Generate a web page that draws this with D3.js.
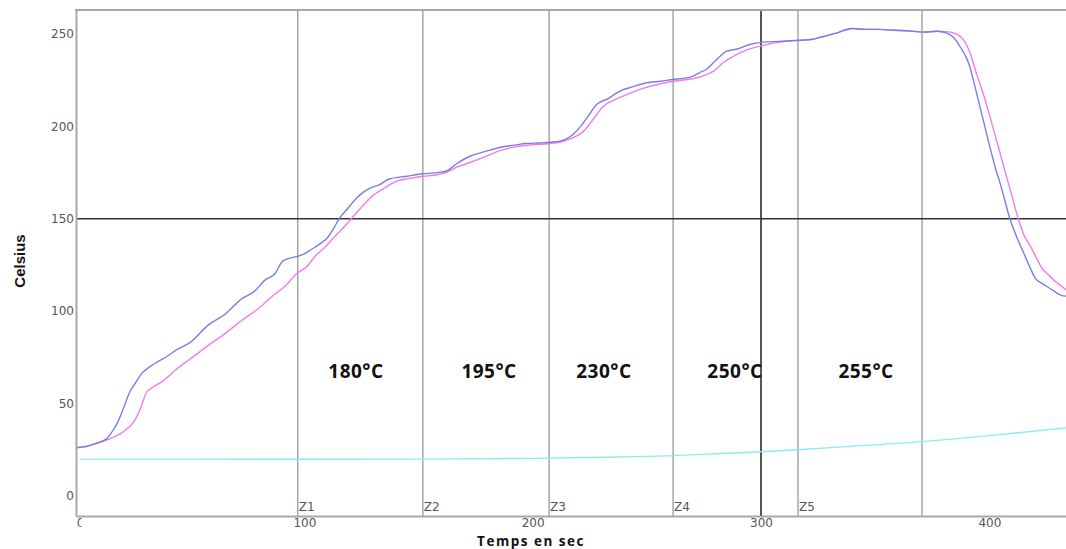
<!DOCTYPE html>
<html>
<head>
<meta charset="utf-8">
<script src="https://cdn.jsdelivr.net/npm/d3@7"></script>
<style>
  body { margin: 0; background: #fff; }
</style>
</head>
<body>
<svg id="chart" width="1066" height="549"></svg>
<script>
// Data (time in sec, temperature in Celsius)
const blueTime = [0, 5, 9, 13, 16, 18, 21, 23.5, 26, 29, 32, 35, 40, 44, 50, 58, 65, 73, 78, 83, 87, 90.5, 94, 97, 100, 103, 107, 110, 113, 115, 119, 123, 126, 129, 133, 137.5, 145, 152, 157, 162, 167, 172.5, 179, 186, 192, 197, 203, 208, 212, 215, 218, 221, 224, 228, 233, 238, 244, 250, 256, 261.5, 266, 270, 273, 276, 280, 285, 290, 295, 301, 308, 317, 322, 327, 333, 340, 346, 352, 358, 364, 371, 377, 381, 384, 387, 391, 394, 397, 400, 402.5, 405, 409, 412, 415, 418, 420, 423, 425, 428, 431.5, 434];
const blueTemp = [26, 26.8, 28.5, 30.5, 35, 39, 48, 56, 61, 66.5, 69.5, 72, 75.5, 79, 83, 92.5, 98, 107, 110.5, 117, 120, 127, 128.8, 129.6, 131, 133.3, 136.5, 139.5, 145, 149.5, 155.5, 161.3, 164.5, 166.7, 168.5, 171.6, 173, 174.3, 174.8, 175.7, 180, 183.8, 186.3, 188.7, 189.8, 190.7, 191, 191.4, 192, 193.3, 196, 200, 205, 211.8, 215, 219, 221.5, 223.6, 224.4, 225.4, 226, 227.1, 229, 230.8, 235.5, 240.7, 242, 244.3, 245.6, 246, 246.6, 247, 248.5, 250.5, 253, 252.5, 252.5, 252, 251.8, 251, 251.5, 250.6, 248.5, 243.5, 234, 220, 205, 190, 178, 168, 150, 140, 131.5, 123, 118, 115, 113.4, 111, 108.5, 108];

const pinkTime = [0, 5, 9, 12, 16, 20, 22, 24, 26.3, 28.5, 30.7, 34, 38, 43.8, 50, 58.4, 65, 73, 80, 86, 92, 97, 101, 105.4, 109, 112.7, 117, 121.5, 126, 130, 135, 140.5, 146, 152, 157, 161.6, 167, 174, 180, 186, 193, 200, 207.6, 213, 218, 222, 226.6, 231, 236, 241.2, 247, 254, 261.6, 267, 272, 276, 279.2, 283, 288, 294, 299.6, 306, 317, 322, 327, 333, 340, 346, 352, 358, 364, 371, 377, 381, 384.3, 388.6, 391.5, 394.5, 397.5, 400.3, 403, 405, 407, 409.1, 412.8, 415, 418, 420.5, 423, 426, 428, 431, 434];
const pinkTemp = [26, 26.8, 28.2, 29.5, 31.5, 34, 36, 38, 42, 48, 55.6, 59, 62, 68.3, 74, 81.8, 87.5, 95.3, 101.5, 108, 114, 120.6, 124, 130.6, 134.5, 139.6, 145, 151.3, 157.5, 162.5, 166.5, 170.3, 171.8, 173, 173.5, 174.8, 178, 181.1, 184, 187, 189, 190, 190.7, 191.8, 194, 197, 204, 210.9, 214.5, 217.2, 220, 222.5, 224.4, 225.2, 226.3, 228, 229.9, 234, 238, 241.5, 243.4, 245.2, 246.6, 247, 248.5, 250.5, 253, 252.5, 252.5, 252, 251.8, 251, 251.5, 251.3, 250.6, 247, 240, 228, 217, 205, 193, 184, 175, 165.8, 149.5, 141.5, 135, 129, 123.3, 119.5, 117, 114, 111];

const cyanTime = [1.5, 50, 100, 150, 200, 230, 261.5, 285, 300, 316, 340, 370.5, 400, 434];
const cyanTemp = [19.8, 19.8, 19.7, 19.8, 20.2, 20.8, 21.7, 23, 23.8, 24.9, 26.8, 29.3, 32.5, 36.8];

const zoneTimes = [97.1, 151.9, 207.2, 261.5, 316.2, 370.5];
const zoneNames = ["Z1", "Z2", "Z3", "Z4", "Z5", ""];
const setLabels = ["180°C", "195°C", "230°C", "250°C", "255°C"];
const setLabelTimes = [122.6, 180.9, 231.2, 288.6, 346];
const refTime = 300;
const refTemp = 150;
const xTicks = [0, 100, 200, 300, 400];
const yTicks = [0, 50, 100, 150, 200, 250];

let svg = d3.select("#chart");
let plotLeft = 76, plotTop = 10, plotRight = 1067, plotBottom = 516;

// Setup scales.
let xScale = d3.scaleLinear().domain([0, 434]).range([plotLeft, plotRight]);
let yScale = d3.scaleLinear().domain([-11, 263]).range([plotBottom, plotTop]);

svg.append("clipPath").attr("id", "plotClip")
    .append("rect").attr("x", plotLeft).attr("y", plotTop)
    .attr("width", plotRight - plotLeft).attr("height", plotBottom - plotTop);

// Zone lines
svg.selectAll(".zone").data(zoneTimes).enter().append("line")
    .attr("x1", d => xScale(d)).attr("x2", d => xScale(d))
    .attr("y1", plotTop).attr("y2", plotBottom)
    .attr("stroke", "#a0a0a0").attr("stroke-width", 1.4);

svg.selectAll(".zoneName").data(zoneNames).enter().append("text")
    .attr("x", (d, i) => xScale(zoneTimes[i]) + 1)
    .attr("y", 511)
    .style("font-family", "Tahoma, 'DejaVu Sans', sans-serif")
    .style("font-size", "12px")
    .style("fill", "#555")
    .text(d => d);

// Reference lines
svg.append("line")
    .attr("x1", xScale(refTime)).attr("x2", xScale(refTime))
    .attr("y1", plotTop).attr("y2", plotBottom)
    .attr("stroke", "#555").attr("stroke-width", 2);
svg.append("line")
    .attr("x1", plotLeft).attr("x2", 1066)
    .attr("y1", yScale(refTemp)).attr("y2", yScale(refTemp))
    .attr("stroke", "#333").attr("stroke-width", 1.5);

// Curves
function drawCurve(times, temps, color) {
    let line = d3.line()
        .x(d => xScale(d[0]))
        .y(d => yScale(d[1]))
        .curve(d3.curveMonotoneX);
    svg.append("path")
        .datum(times.map((t, i) => [t, temps[i]]))
        .attr("d", line)
        .attr("clip-path", "url(#plotClip)")
        .attr("fill", "none")
        .attr("stroke", color)
        .attr("stroke-width", 1.4);
}
drawCurve(cyanTime, cyanTemp, "#88eeee");
drawCurve(pinkTime, pinkTemp, "#f07cf0");
drawCurve(blueTime, blueTemp, "#7c7ce6");

// Zone set temperatures
svg.selectAll(".setLabel").data(setLabels).enter().append("text")
    .attr("x", (d, i) => xScale(setLabelTimes[i]))
    .attr("y", 378)
    .style("text-anchor", "middle")
    .style("font-family", "'Open Sans', sans-serif")
    .style("font-weight", "bold")
    .style("font-size", "19px")
    .style("letter-spacing", "0.5px")
    .style("fill", "#111")
    .text(d => d);

// Axes
let xAxis = svg.append("g")
    .attr("transform", "translate(0," + plotBottom + ")")
    .call(d3.axisBottom(xScale).tickValues(xTicks).tickSize(0).tickPadding(2));
let yAxis = svg.append("g")
    .attr("transform", "translate(" + plotLeft + ",0)")
    .call(d3.axisLeft(yScale).tickValues(yTicks).tickSize(0).tickPadding(2));

[xAxis, yAxis].forEach(a => {
    a.select(".domain").attr("stroke", "#a8a8a8").attr("stroke-width", 2);
    a.selectAll("text")
        .style("font-family", "Tahoma, 'DejaVu Sans', sans-serif")
        .style("font-size", "12px")
        .style("fill", "#555");
});

// The "0" on the time axis is cut in the original
svg.append("clipPath").attr("id", "zeroClip")
    .append("rect").attr("x", -2).attr("y", 0).attr("width", 7).attr("height", 30);
xAxis.selectAll(".tick").filter(d => d === 0).select("text")
    .attr("x", 4)
    .attr("clip-path", "url(#zeroClip)");

// Top border
svg.append("line")
    .attr("x1", plotLeft - 1).attr("x2", 1066)
    .attr("y1", plotTop).attr("y2", plotTop)
    .attr("stroke", "#a8a8a8").attr("stroke-width", 2);

// Axis titles
svg.append("text")
    .attr("x", 531).attr("y", 545.5)
    .style("text-anchor", "middle")
    .style("font-family", "'Open Sans', sans-serif")
    .style("font-weight", "bold")
    .style("font-size", "13.5px")
    .style("letter-spacing", "1.5px")
    .style("fill", "#111")
    .text("Temps en sec");

svg.append("text")
    .attr("transform", "translate(25,261) rotate(-90)")
    .style("text-anchor", "middle")
    .style("font-family", "'Liberation Sans', Arial, sans-serif")
    .style("font-weight", "bold")
    .style("font-size", "15px")
    .style("fill", "#111")
    .text("Celsius");
</script>
</body>
</html>
